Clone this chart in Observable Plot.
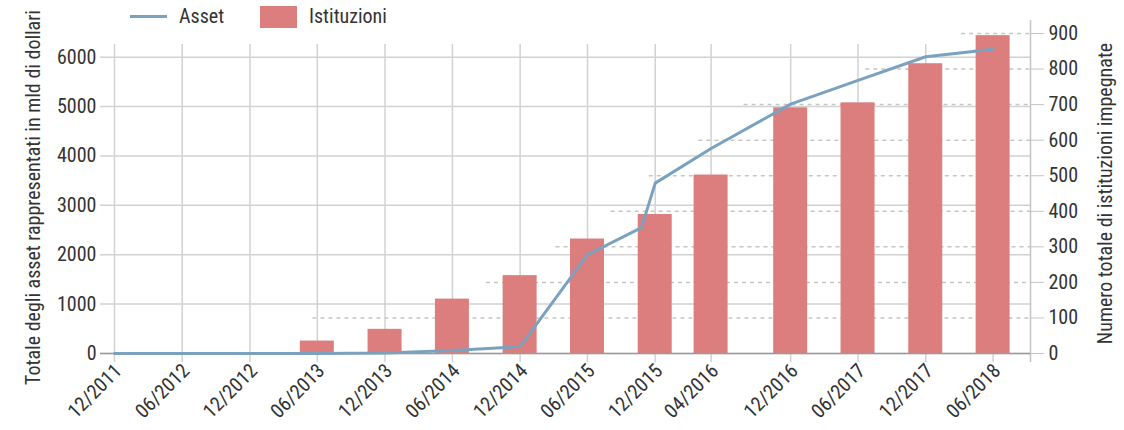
<!DOCTYPE html>
<html>
<head>
<meta charset="utf-8">
<script src="https://cdn.jsdelivr.net/npm/d3@7"></script>
<script src="https://cdn.jsdelivr.net/npm/@observablehq/plot@0.6"></script>
<style>
  html, body { margin: 0; padding: 0; background: #ffffff; }
  #wrap { position: relative; width: 1124px; height: 430px; overflow: hidden;
          font-family: "Roboto Condensed", "Roboto", sans-serif; color: #333; }
  #wrap svg { position: absolute; left: 0; top: 0; }
  .lg { position: absolute; font-size: 20px; line-height: 1; }
</style>
</head>
<body>
<div id="wrap">
  <div class="lg" style="left:130px;top:15px;width:37px;height:3px;background:#7aa2bf;"></div>
  <div class="lg" style="left:179px;top:6px;">Asset</div>
  <div class="lg" style="left:260px;top:6px;width:37px;height:22px;background:#dd7e7e;"></div>
  <div class="lg" style="left:309px;top:6px;">Istituzioni</div>
</div>
<script>
// Periods shown on the x axis (labels) and their dates
const periods = ["12/2011","06/2012","12/2012","06/2013","12/2013","06/2014","12/2014",
                 "06/2015","12/2015","04/2016","12/2016","06/2017","12/2017","06/2018"];
const periodDates = ["2011-12-01","2012-06-01","2012-12-01","2013-06-01","2013-12-01","2014-06-01","2014-12-01",
                     "2015-06-01","2015-12-01","2016-04-30","2016-12-01","2017-06-01","2017-12-01","2018-06-01"];
// Number of committed institutions (right axis)
const istituzioni = [0, 0, 0, 35, 68, 153, 219, 322, 391, 502, 691, 705, 815, 894];
// Total assets represented, billions USD (left axis)
const assetDates = ["2011-12-01","2012-06-01","2012-12-01","2013-06-01","2013-12-01","2014-06-01","2014-12-01",
                    "2015-06-01","2015-10-25","2015-12-01","2016-04-30","2016-12-01","2017-06-01","2017-12-01","2018-06-01"];
const assetValues = [0, 0, 0, 0, 10, 60, 140, 2000, 2550, 3450, 4150, 5050, 5530, 6010, 6160];
// Axis ticks and titles
const leftTicks = [0, 1000, 2000, 3000, 4000, 5000, 6000];
const rightTicks = [0, 100, 200, 300, 400, 500, 600, 700, 800, 900];
const leftTitle = "Totale degli asset rappresentati in mld di dollari";
const rightTitle = "Numero totale di istituzioni impegnate";
// Dashed reference lines of the right axis and where they begin
const dashLevels = [100, 200, 300, 400, 500, 600, 700, 800, 900];
const dashStarts = ["2013-05-20","2014-09-01","2015-03-08","2015-08-04","2015-11-15","2016-03-28","2016-07-28","2017-06-22","2018-03-08"];

const parse = s => new Date(s + "T00:00:00Z");
const K = 7.2;                         // right-axis unit expressed in left-axis units
const xEnd = parse("2018-09-10");      // right edge of the plotting frame
const pDates = periodDates.map(parse);
const labelOf = new Map(pDates.map((d, i) => [+d, periods[i]]));
const bars = pDates.map((d, i) => ({date: d, n: istituzioni[i]})).filter(d => d.n > 0);
const asset = assetDates.map((s, i) => ({date: parse(s), v: assetValues[i]}));
const dashes = dashLevels.map((v, i) => ({v, start: parse(dashStarts[i])}));

const FONT = '"Roboto Condensed", "Roboto", sans-serif';
const GRID = "#d2d2d2";

const chart = Plot.plot({
  width: 1124,
  height: 430,
  marginTop: 33,
  marginBottom: 77,
  marginLeft: 114,
  marginRight: 94,
  style: {fontFamily: FONT, fontSize: "20px", color: "#333", background: "transparent"},
  x: {type: "utc", domain: [pDates[0], xEnd]},
  y: {domain: [0, 900 * K]},
  marks: [
    Plot.ruleY(leftTicks, {stroke: GRID, strokeWidth: 1.5, insetLeft: -14}),
    Plot.ruleY(dashes, {y: d => d.v * K, x1: "start", x2: () => xEnd, stroke: "#c6c6c6", strokeWidth: 1.5, strokeDasharray: "4,4"}),
    Plot.ruleX(pDates, {stroke: GRID, strokeWidth: 1.5, insetTop: 11, insetBottom: -9}),
    Plot.ruleX([xEnd], {stroke: "#c4c4c4", strokeWidth: 1.5, insetTop: -13, insetBottom: -9}),
    Plot.rectY(bars, {x1: "date", x2: "date", y1: 0, y2: d => d.n * K, fill: "#dd7e7e", insetLeft: -17, insetRight: -17}),
    Plot.ruleY([0], {stroke: "#9a9a9a", strokeWidth: 1.5, insetLeft: -14}),
    Plot.line(asset, {x: "date", y: "v", stroke: "#7aa2bf", strokeWidth: 3}),
    Plot.axisY(leftTicks, {anchor: "left", tickSize: 0, tickPadding: 18, tickFormat: d => String(d), label: null}),
    Plot.axisY(rightTicks.map(v => v * K), {anchor: "right", tickSize: 13, tickPadding: 5, stroke: "#c4c4c4",
      tickFormat: d => String(Math.round(d / K)), label: null}),
    Plot.axisX(pDates, {tickSize: 0, tickPadding: 14, tickRotate: -45, dx: 4,
      tickFormat: d => labelOf.get(+d), label: null}),
    Plot.text([leftTitle], {text: d => d, frameAnchor: "left", dx: -81, dy: 4, rotate: -90,
      textAnchor: "middle", lineAnchor: "middle", fontSize: 20, fill: "#333"}),
    Plot.text([rightTitle], {text: d => d, frameAnchor: "right", dx: 75, rotate: -90,
      textAnchor: "middle", lineAnchor: "middle", fontSize: 20, fill: "#333"})
  ]
});
document.getElementById("wrap").prepend(chart);
</script>
</body>
</html>
